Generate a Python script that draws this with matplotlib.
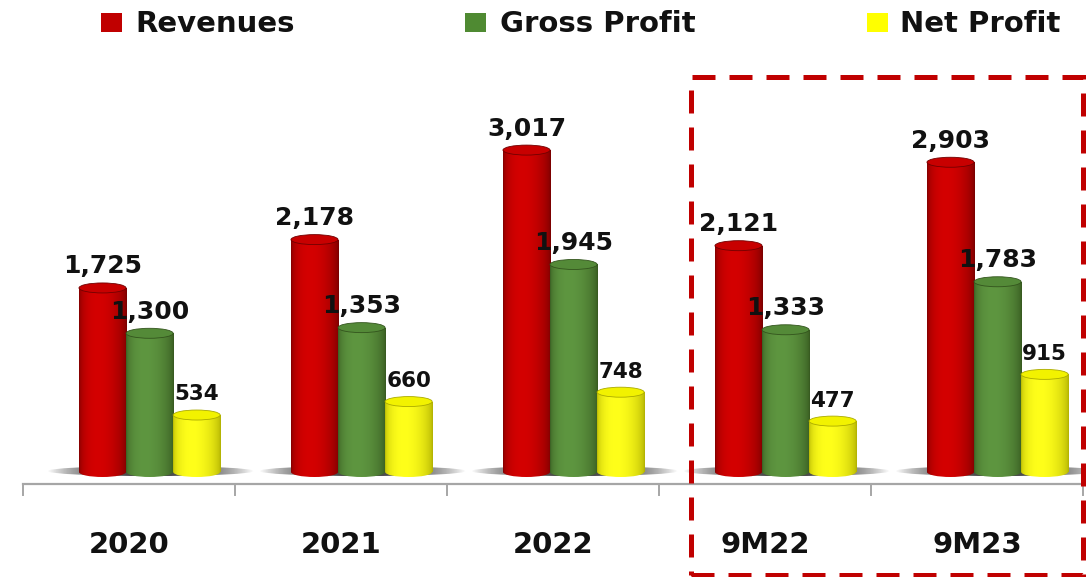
import numpy as np
import matplotlib
matplotlib.use("Agg")
import matplotlib.pyplot as plt
from matplotlib.patches import Rectangle, Ellipse
from matplotlib.colors import to_rgb

# data
periods = ["2020", "2021", "2022", "9M22", "9M23"]
revenues = [1725, 2178, 3017, 2121, 2903]
gross_profit = [1300, 1353, 1945, 1333, 1783]
net_profit = [534, 660, 748, 477, 915]
series_names = ["Revenues", "Gross Profit", "Net Profit"]

# look
W, H = 1086, 577
k = 0.1067          # pixels per unit
base_px = 472       # pixel row of the bar floor
ax_top_px, ax_bot_px = 60, 500
colors = {
    "Revenues": ("#700000", "#d40000", "#c80000"),
    "Gross Profit": ("#33541d", "#5e9640", "#548a38"),
    "Net Profit": ("#aaaa00", "#ffff1a", "#f2f200"),
}
legend_sq = ["#c00000", "#4f8a32", "#ffff00"]
bar_w = 0.222
offsets = [-0.125, 0.097, 0.319]
ell_h = 10 / k


def shade(dark, light, n=200):
    t = np.linspace(0, 1, n)
    f = np.clip(np.sin(np.pi * t ** 0.75), 0, 1) ** 0.5
    d, l = np.array(to_rgb(dark)), np.array(to_rgb(light))
    img = d[None, :] + (l - d)[None, :] * f[:, None]
    return img[None, :, :]


def cylinder(ax, x, h, name):
    dark, light, top = colors[name]
    img = shade(dark, light)
    x0, x1 = x - bar_w / 2, x + bar_w / 2
    body = Rectangle((x0, 0), bar_w, h, transform=ax.transData)
    bottom = Ellipse((x, 0), bar_w, ell_h, transform=ax.transData)
    for clip in (body, bottom):
        im = ax.imshow(img, extent=(x0, x1, -ell_h, h), aspect="auto",
                       interpolation="bilinear", zorder=3)
        im.set_clip_path(clip)
    ax.add_patch(Ellipse((x, h), bar_w, ell_h, facecolor=top,
                         edgecolor=dark, lw=0.6, zorder=4))


fig = plt.figure(figsize=(W / 100, H / 100), dpi=100)
ax = fig.add_axes([23 / W, 1 - ax_bot_px / H, 1060 / W, (ax_bot_px - ax_top_px) / H])
ax.set_xlim(-0.5, 4.5)
ax.set_ylim(-(ax_bot_px - base_px) / k, (base_px - ax_top_px) / k)
ax.axis("off")

# floor shadows
sh = np.zeros((1, 300, 4))
t = np.linspace(-1, 1, 300)
sh[0, :, :3] = 0.28
sh[0, :, 3] = np.clip(1 - np.abs(t) ** 2.5, 0, 1)
for i in range(len(periods)):
    gx0 = i + offsets[0] - bar_w / 2 - 0.15
    gx1 = i + offsets[2] + bar_w / 2 + 0.16
    cy, hh = 9, 10 / k
    im = ax.imshow(sh, extent=(gx0, gx1, cy - hh / 2, cy + hh / 2), aspect="auto", zorder=2)
    im.set_clip_path(Ellipse(((gx0 + gx1) / 2, cy), gx1 - gx0, hh, transform=ax.transData))

# bars and labels
for vals, name, off in zip([revenues, gross_profit, net_profit], series_names, offsets):
    fs = 15.5 if name == "Net Profit" else 18
    for i, v in enumerate(vals):
        cylinder(ax, i + off, v, name)
        ax.annotate(f"{v:,}", (i + off, v), xytext=(0, 10.5), textcoords="offset points",
                    ha="center", va="baseline", fontsize=fs, fontweight="bold",
                    color="#111111", zorder=6)

# category axis
axis_y = -(484 - base_px) / k
ax.plot([-0.5, 4.6], [axis_y, axis_y], color="#a6a6a6", lw=1.6, clip_on=False, zorder=1)
for b in np.arange(-0.5, 4.6, 1):
    ax.plot([b, b], [axis_y, axis_y - 11 / k], color="#a6a6a6", lw=1.4, clip_on=False)
for i, p in enumerate(periods):
    ax.text(i, -(553 - base_px) / k, p, ha="center", va="baseline", fontsize=21,
            fontweight="bold", color="#111111")

# legend
leg_sq_x = [101, 465, 867]
leg_tx_x = [135, 500, 900]
for sx, tx, c, name in zip(leg_sq_x, leg_tx_x, legend_sq, series_names):
    fig.patches.append(Rectangle((sx / W, 1 - 32 / H), 21 / W, 19 / H, transform=fig.transFigure,
                                 facecolor=c, edgecolor="none"))
    fig.text(tx / W, 1 - 32 / H, name, ha="left", va="baseline", fontsize=21,
             fontweight="bold", color="#111111")

# dashed highlight box
fig.patches.append(Rectangle((691 / W, 1 - 575 / H), (1083 - 691) / W, (575 - 77) / H,
                             transform=fig.transFigure, fill=False, edgecolor="#c00000",
                             lw=3.6, linestyle=(0, (4.6, 2.8)), zorder=10))

fig.savefig("out.png", dpi=100)
